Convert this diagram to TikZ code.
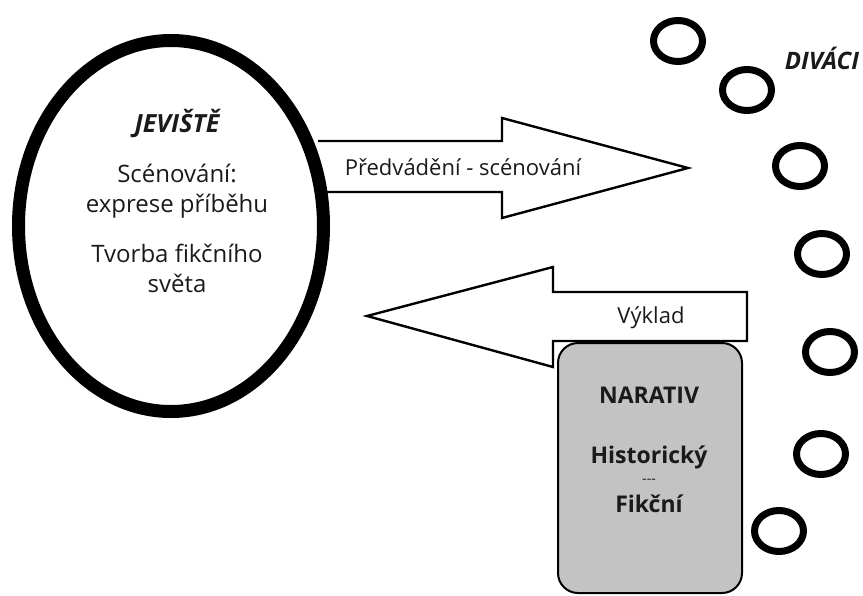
\documentclass[tikz,border=0pt]{standalone}
\usepackage{fontspec}
\setmainfont{Open Sans}
\usepackage{tikz}
\usetikzlibrary{shapes.geometric}

\definecolor{boxgray}{HTML}{C3C3C3}
\definecolor{txt}{HTML}{1A1A1A}

\tikzset{
  big/.style={font=\fontsize{24}{30}\selectfont, text=txt, align=center, inner sep=0pt, anchor=base},
  small/.style={font=\fontsize{22}{25}\selectfont, text=txt, inner sep=0pt, anchor=base},
  blockarrow/.style={draw=black, line width=2.4pt, fill=white, line join=miter},
  viewer/.style={ellipse, draw=black, line width=7pt, minimum width=49pt, minimum height=41pt, inner sep=0pt},
}

\begin{document}
\begin{tikzpicture}[x=1pt,y=-1pt]
      \useasboundingbox (0,0) rectangle (863,595);
      % arrows
      \draw[blockarrow] (318,141) -- (502,141) -- (502,118) -- (688,168)
        -- (502,218) -- (502,192) -- (318,192);
      \draw[blockarrow] (747,292) -- (553,292) -- (553,267) -- (367,316)
        -- (553,367) -- (553,341) -- (747,341) -- cycle;
      \node[small] (show) at (463,175) {Předvádění - scénování};
      \node[small] (tell) at (651,323) {Výklad};
      % stage
      \node[ellipse, draw=black, line width=13pt, minimum width=305pt, minimum height=371pt] (stage) at (171,226) {};
      \node[big, font=\fontsize{25}{30}\selectfont\bfseries\itshape] (jev) at (177,132) {JEVIŠTĚ};
      \node[big] (scen) at (177,212) {Scénování:\\exprese příběhu};
      \node[big] (tvor) at (177,292) {Tvorba fikčního\\světa};
      % narrative
      \draw[draw=black, line width=2pt, fill=boxgray, rounded corners=20pt] (558,343) rectangle (742,593);
      \node[small, font=\fontsize{23}{25}\selectfont\bfseries] (nar) at (649,403) {NARATIV};
      \node[small, font=\fontsize{23}{25}\selectfont\bfseries] (hist) at (649,463) {Historický};
      \node[small, font=\fontsize{14}{14}\selectfont] (dash) at (649,483) {-{}-{}-};
      \node[small, font=\fontsize{23}{25}\selectfont\bfseries] (fik) at (649,512) {Fikční};
      % audience
      \foreach \x/\y [count=\i] in {678/41, 747/90, 800/166, 822/254, 830/352, 821/454, 779/531}
        \node[viewer] (c\i) at (\x,\y) {};
      \node[small, font=\fontsize{24}{25}\selectfont\bfseries\itshape] (div) at (822,69) {DIVÁCI};
    \end{tikzpicture}
\end{document}
